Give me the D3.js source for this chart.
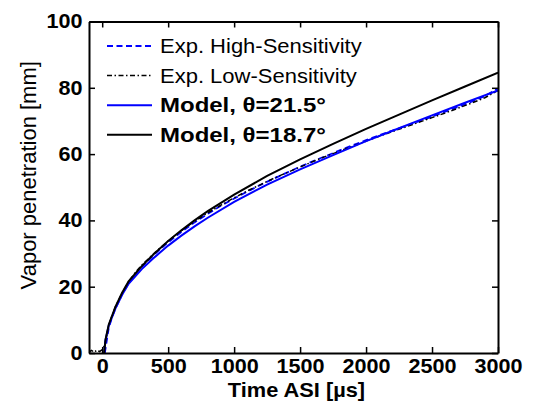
<!DOCTYPE html>
<html>
<head>
<meta charset="utf-8">
<script src="https://cdn.jsdelivr.net/npm/d3@7"></script>
<style>
  body { margin: 0; background: #fff; }
  svg text { font-family: "Liberation Sans", Arial, sans-serif; fill: #000; }
</style>
</head>
<body>
<div id="chart"></div>
<script>
// ---- Data ----
const xTicks = [0, 500, 1000, 1500, 2000, 2500, 3000];
const yTicks = [0, 20, 40, 60, 80, 100];

const modelTimes = [15, 25, 50, 100, 150, 200, 300, 400, 500, 600, 700, 800, 1000, 1250, 1500, 1750, 2000, 2250, 2500, 2750, 3000];
const model187 = [0, 4.0, 8.6, 13.9, 18.1, 21.6, 26.2, 30.2, 33.8, 37.0, 40.0, 42.8, 47.8, 53.4, 58.4, 63.1, 67.6, 71.9, 76.2, 80.4, 84.6];
const model215 = [0, 3.9, 8.3, 13.4, 17.5, 20.9, 25.3, 29.0, 32.4, 35.4, 38.2, 40.8, 45.6, 50.8, 55.4, 59.7, 63.9, 67.8, 71.7, 75.5, 79.2];

const expHighTimes = [20, 50, 75, 100, 150, 200, 250, 300, 400, 500, 600, 700, 800, 900, 1000, 1100, 1200, 1300, 1400, 1500, 1600, 1700, 1800, 1900, 2000, 2100, 2200, 2300, 2400, 2500, 2600, 2700, 2800, 2900, 3000];
const expHigh = [0, 7.6, 10.8, 13.4, 17.6, 21.0, 23.9, 26.0, 29.9, 33.4, 36.5, 39.4, 42.0, 44.4, 46.6, 48.7, 50.7, 52.6, 54.4, 56.2, 57.9, 59.5, 61.1, 62.7, 64.2, 65.7, 67.1, 68.5, 69.9, 71.3, 72.8, 74.3, 75.8, 77.5, 79.8];

const expLowTimes = [-100, -80, -60, -40, -20, 0, 20, 50, 75, 100, 150, 200, 250, 300, 400, 500, 600, 700, 800, 900, 1000, 1100, 1200, 1300, 1400, 1500, 1600, 1700, 1800, 1900, 2000, 2100, 2200, 2300, 2400, 2500, 2600, 2700, 2800, 2900, 3000];
const expLow = [0.3, 0.8, 0.2, 0.9, 0.4, 1.0, 2.5, 8.2, 11.3, 13.9, 18.0, 21.5, 24.3, 26.5, 30.3, 33.8, 36.9, 39.7, 42.3, 44.6, 46.8, 48.9, 50.8, 52.7, 54.4, 56.1, 57.8, 59.4, 60.9, 62.4, 63.9, 65.4, 66.8, 68.2, 69.6, 71.0, 72.4, 73.9, 75.4, 77.0, 79.2];

const seriesNames = ["Exp. High-Sensitivity", "Exp. Low-Sensitivity", "Model, \u03b8=21.5\u00b0", "Model, \u03b8=18.7\u00b0"];

const series = [
    { name: seriesNames[0], t: expHighTimes, v: expHigh, color: "#0000ff", dash: "6,3.5", width: 1.8, bold: false },
    { name: seriesNames[1], t: expLowTimes, v: expLow, color: "#000", dash: "5,2.5,1.5,2.5", width: 1.5, bold: false },
    { name: seriesNames[2], t: modelTimes, v: model215, color: "#0000ff", dash: null, width: 2, bold: true },
    { name: seriesNames[3], t: modelTimes, v: model187, color: "#000", dash: null, width: 2, bold: true }
];

const width = 543, height = 411;
const margin = { top: 21.5, right: 45, bottom: 58, left: 89 };
const innerW = width - margin.left - margin.right;
const innerH = height - margin.top - margin.bottom;

const svg = d3.select("#chart").append("svg")
    .attr("width", width)
    .attr("height", height);

const g = svg.append("g")
    .attr("transform", `translate(${margin.left},${margin.top})`);

// ---- Scales ----
const x = d3.scaleLinear().domain([-100, 3000]).range([0, innerW]);
const y = d3.scaleLinear().domain([0, 100]).range([innerH, 0]);

// ---- Lines ----
const line = d3.line()
    .x(d => x(d[0]))
    .y(d => y(d[1]));

g.append("defs").append("clipPath").attr("id", "clip")
    .append("rect").attr("width", innerW).attr("height", innerH);

series.forEach(s => {
    g.append("path")
        .datum(s.t.map((t, i) => [t, s.v[i]]))
        .attr("clip-path", "url(#clip)")
        .attr("fill", "none")
        .attr("stroke", s.color)
        .attr("stroke-width", s.width)
        .attr("stroke-dasharray", s.dash)
        .attr("d", line);
});

// ---- Axes (ticks inward, mirrored) ----
const tickLen = 6;
const styleAxis = sel => {
    sel.select(".domain").attr("stroke", "#000").attr("stroke-width", 2);
    sel.selectAll(".tick line").attr("stroke", "#000").attr("stroke-width", 1.5);
};

const xAxis = g.append("g")
    .attr("transform", `translate(0,${innerH})`)
    .call(d3.axisBottom(x).tickValues(xTicks).tickFormat(d3.format("d"))
        .tickSizeInner(-tickLen).tickSizeOuter(0).tickPadding(6))
    .call(styleAxis);
xAxis.selectAll("text")
    .attr("font-size", 20)
    .attr("font-weight", "bold")
    .attr("transform", "scale(1.08,1)");

g.append("g")
    .call(d3.axisTop(x).tickValues(xTicks).tickSizeInner(-tickLen).tickSizeOuter(0).tickFormat(""))
    .call(styleAxis);

const yAxis = g.append("g")
    .call(d3.axisLeft(y).tickValues(yTicks).tickFormat(d3.format("d"))
        .tickSizeInner(-tickLen).tickSizeOuter(0).tickPadding(6))
    .call(styleAxis);
yAxis.selectAll("text")
    .attr("font-size", 20)
    .attr("font-weight", "bold")
    .attr("transform", "scale(1.08,1)");

g.append("g")
    .attr("transform", `translate(${innerW},0)`)
    .call(d3.axisRight(y).tickValues(yTicks).tickSizeInner(-tickLen).tickSizeOuter(0).tickFormat(""))
    .call(styleAxis);

// ---- Axis titles ----
g.append("text")
    .attr("transform", `translate(${innerW / 2 + 3},${innerH + 44}) scale(1.09,1)`)
    .attr("text-anchor", "middle")
    .attr("font-size", 20)
    .attr("font-weight", "bold")
    .text("Time ASI [\u00b5s]");

g.append("text")
    .attr("transform", `translate(${-margin.left + 36},${innerH / 2 - 12}) rotate(-90)`)
    .attr("text-anchor", "middle")
    .attr("font-size", 22)
    .text("Vapor penetration [mm]");

// ---- Legend ----
const legend = g.append("g")
    .attr("transform", `translate(${107 - margin.left},${46 - margin.top})`);

const rows = legend.selectAll(".row")
    .data(series)
    .enter()
    .append("g")
    .attr("transform", (d, i) => `translate(0,${i * 29.6})`);

rows.append("line")
    .attr("x1", 0)
    .attr("x2", 45)
    .attr("stroke", d => d.color)
    .attr("stroke-width", d => d.width)
    .attr("stroke-dasharray", d => d.dash);

rows.append("text")
    .attr("transform", d => `translate(53,0) scale(${d.bold ? 1.2 : 1.1},1)`)
    .attr("dy", "0.35em")
    .attr("font-size", 20)
    .attr("font-weight", d => d.bold ? "bold" : "normal")
    .text(d => d.name);
</script>
</body>
</html>
